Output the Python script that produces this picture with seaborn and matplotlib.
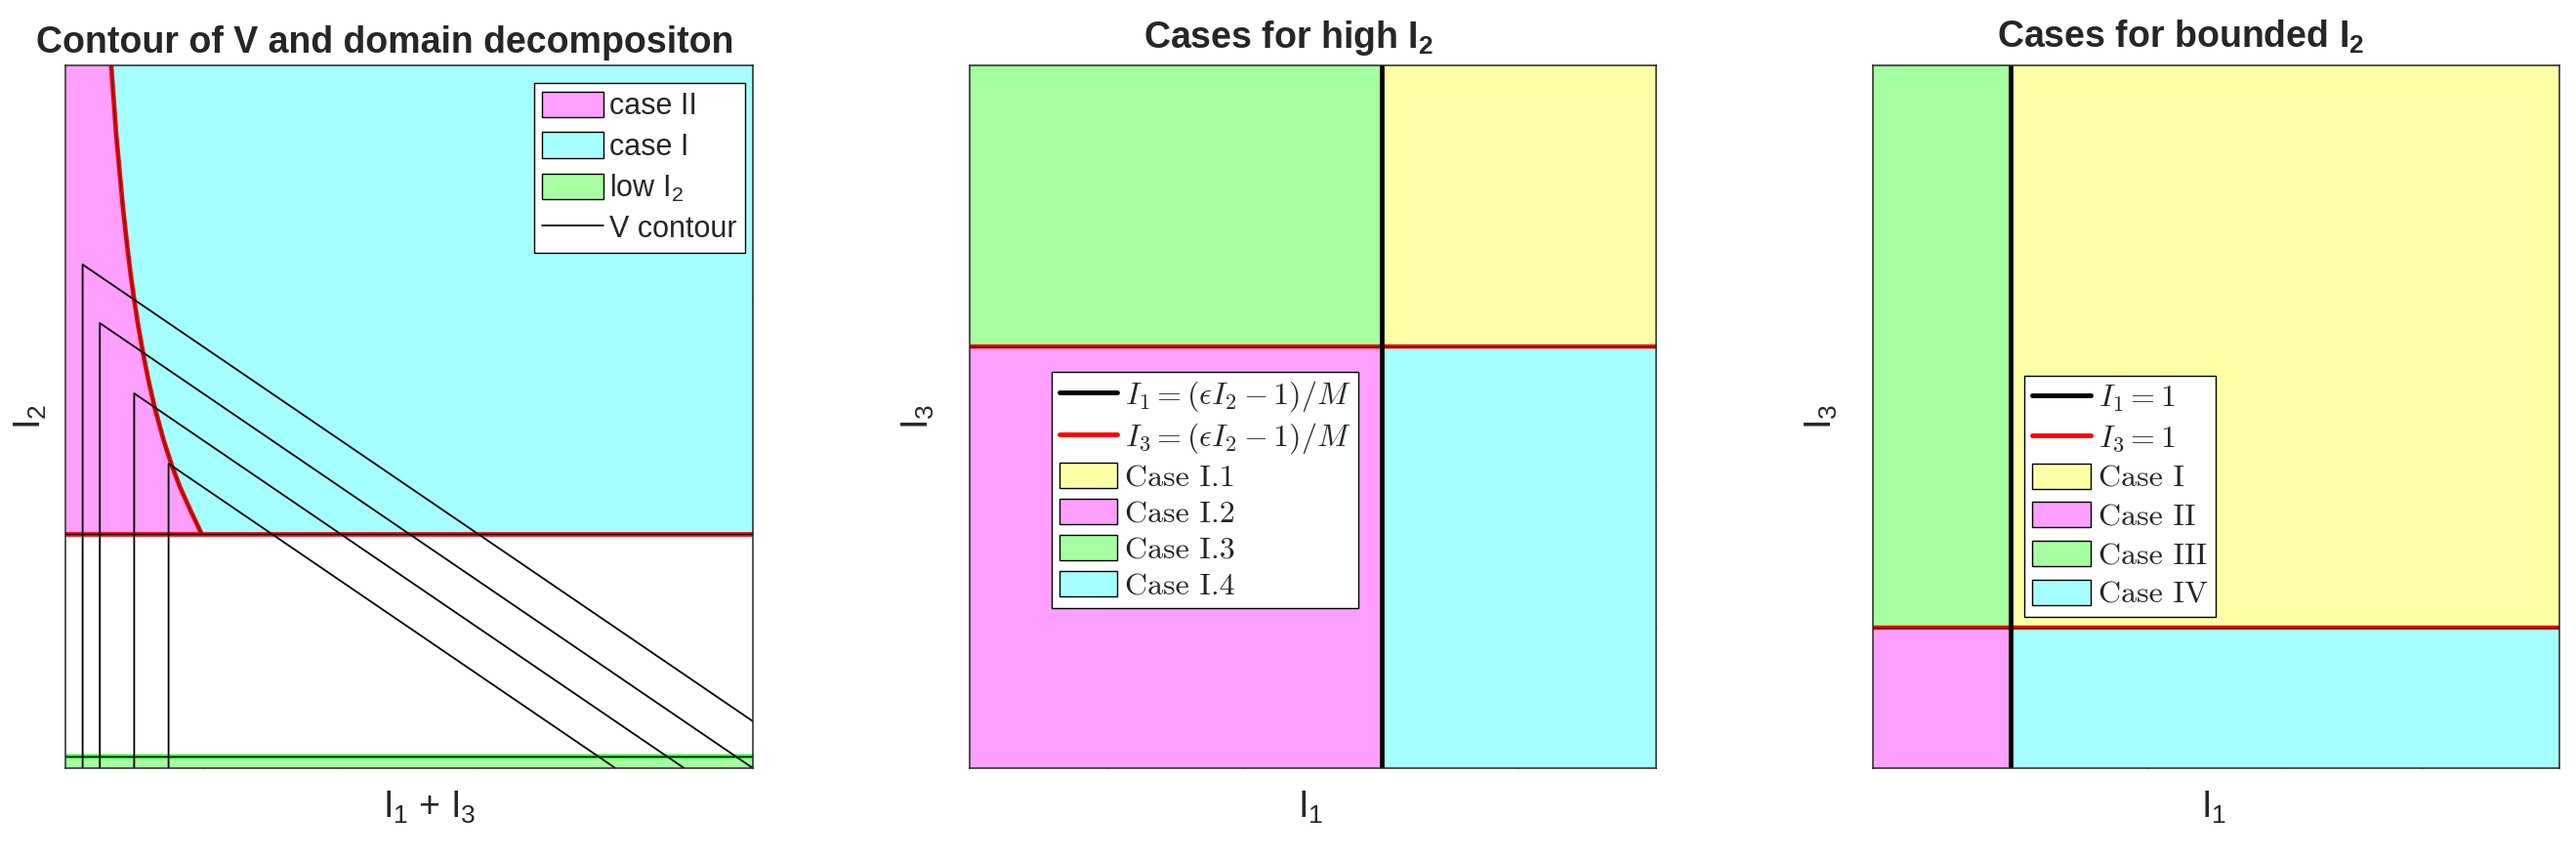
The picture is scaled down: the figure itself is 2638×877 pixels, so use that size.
import numpy as np
import pandas as pd
import matplotlib
matplotlib.use("Agg")
import matplotlib.pyplot as plt
import seaborn as sns
from matplotlib.patches import Patch
from matplotlib.lines import Line2D
from matplotlib.font_manager import FontProperties, fontManager

# ---- values ----
# panel 1: I1 + I3 on x, I2 on y
p1_xlim = (0, 5)
p1_ylim = (0, 3)
p1_xticks = [1, 2, 3, 4]
p1_yticks = [1, 2]
i2_split = 1.0        # red line: bounded / high I2
low_i2_top = 0.05     # top of the "low I2" strip

# case II | case I boundary
curve_i2 = [1.0, 1.1, 1.2, 1.29, 1.4, 1.54, 1.65, 1.77, 1.9, 2.0, 2.1, 2.24, 2.4, 2.7, 3.0]
curve_x = [0.99, 0.91, 0.833, 0.775, 0.714, 0.649, 0.606, 0.565, 0.526, 0.5, 0.476, 0.447, 0.417, 0.37, 0.333]

# V contours: vertical at x0 up to top, then straight down to (end, 0)
contour_x0 = [0.125, 0.25, 0.5, 0.75]
contour_top = [2.15, 1.9, 1.6, 1.3]
contour_end = [5.5, 5.0, 4.5, 4.0]

# panels 2 and 3: I1 on x, I3 on y
p23_lim = (0, 5)
p23_ticks = [1, 2, 3, 4]
high_i1, high_i3 = 3.0, 3.0
bnd_i1, bnd_i3 = 1.0, 1.0

pink = "#FF9FFF"
cyan = "#A6FFFF"
green = "#A6FFA0"
yellow = "#FFFFA6"

sns.set_style("ticks")
names = {f.name for f in fontManager.ttflist}
narrow = "Liberation Sans Narrow" in names
title_family = "Liberation Sans Narrow" if narrow else "Liberation Sans"
title_size = 31 if narrow else 27
plt.rcParams["font.family"] = ["Liberation Sans", "DejaVu Sans"]
plt.rcParams["mathtext.fontset"] = "custom"
plt.rcParams["mathtext.rm"] = "Liberation Sans"
plt.rcParams["mathtext.it"] = "Liberation Sans:italic"
plt.rcParams["mathtext.bf"] = title_family + ":bold"

fig = plt.figure(figsize=(26.38, 8.77), dpi=100)
ax1 = fig.add_axes([0.0254, 0.1026, 0.2669, 0.821])
ax2 = fig.add_axes([0.3764, 0.1026, 0.2665, 0.821])
ax3 = fig.add_axes([0.7271, 0.1026, 0.2665, 0.821])

spine_c = "#262626"


def style_axes(ax, xlim, ylim, xticks, yticks):
    ax.set_xlim(*xlim)
    ax.set_ylim(*ylim)
    ax.set_xticks(xticks)
    ax.set_yticks(yticks)
    ax.set_xticklabels([])
    ax.set_yticklabels([])
    ax.tick_params(direction="in", length=6.5, width=0.8, color=spine_c,
                   top=True, right=True)
    for s in ax.spines.values():
        s.set_linewidth(1.1)
        s.set_color(spine_c)
        s.set_zorder(10)


def add_title(ax, text, xc, yb):
    ax.text(xc, yb, text, transform=ax.transAxes, ha="center", va="baseline",
            fontsize=title_size, fontweight="bold", family=title_family)


# ---------------- panel 1 ----------------
ax1.fill_betweenx(curve_i2, p1_xlim[0], curve_x, color=pink, lw=0, zorder=1)
ax1.fill_betweenx(curve_i2, curve_x, p1_xlim[1], color=cyan, lw=0, zorder=1)
ax1.fill_between(p1_xlim, p1_ylim[0], low_i2_top, color=green, lw=0, zorder=1)

rows = []
for k, (x0, top, end) in enumerate(zip(contour_x0, contour_top, contour_end)):
    rows += [(k, x0, 0.0), (k, x0, top), (k, end, 0.0)]
contours = pd.DataFrame(rows, columns=["contour", "x", "y"])
sns.lineplot(data=contours, x="x", y="y", units="contour", estimator=None,
             sort=False, color="black", lw=1.3, legend=False, ax=ax1, zorder=5)

ax1.plot(curve_x, curve_i2, color="red", lw=3.4, zorder=3, solid_capstyle="butt")
ax1.plot(curve_x, curve_i2, color="#5a2020", lw=0.9, zorder=4)
ax1.axhline(i2_split, color="red", lw=3.4, zorder=3)
ax1.axhline(i2_split, color="black", lw=0.8, zorder=4)
ax1.axhline(low_i2_top, color="#22ff22", lw=3.2, zorder=3)
ax1.axhline(low_i2_top, color="black", lw=0.9, zorder=4)

style_axes(ax1, p1_xlim, p1_ylim, p1_xticks, p1_yticks)
ax1.set_xlabel(r"I$_1$ + I$_3$", fontsize=27)
ax1.set_ylabel(r"I$_2$", fontsize=27)
ax1.xaxis.set_label_coords(0.53, -0.03)
ax1.yaxis.set_label_coords(-0.024, 0.5)
add_title(ax1, "Contour of V and domain decompositon", 0.465, 1.018)

h1 = [Patch(facecolor=pink, edgecolor="black", lw=1, label="case II"),
      Patch(facecolor=cyan, edgecolor="black", lw=1, label="case I"),
      Patch(facecolor=green, edgecolor="black", lw=1, label=r"low I$_2$"),
      Line2D([], [], color="black", lw=1.2, label="V contour")]
leg = ax1.legend(handles=h1, loc="upper right", bbox_to_anchor=(0.989, 0.975),
                 fontsize=22, frameon=True, fancybox=False, framealpha=1,
                 edgecolor="black", handlelength=2.05, handleheight=0.96,
                 handletextpad=0.2, borderpad=0.28, labelspacing=0.35,
                 borderaxespad=0)
leg.get_frame().set_linewidth(1.0)
leg.set_zorder(20)

# ---------------- panels 2 and 3 ----------------
lfont = FontProperties(family="cmr10", size=23, math_fontfamily="cm")


def case_panel(ax, i1, i3, labels, title, tx, legend_anchor, spacing):
    lo, hi = p23_lim
    ax.fill_between([lo, i1], i3, hi, color=green, lw=0, zorder=1)
    ax.fill_between([i1, hi], i3, hi, color=yellow, lw=0, zorder=1)
    ax.fill_between([lo, i1], lo, i3, color=pink, lw=0, zorder=1)
    ax.fill_between([i1, hi], lo, i3, color=cyan, lw=0, zorder=1)
    ax.axhline(i3, color="red", lw=3.2, zorder=3)
    ax.axhline(i3, color="#401010", lw=0.7, zorder=3)
    ax.axvline(i1, color="black", lw=3.4, zorder=4)
    style_axes(ax, p23_lim, p23_lim, p23_ticks, p23_ticks)
    ax.set_xlabel(r"I$_1$", fontsize=27)
    ax.set_ylabel(r"I$_3$", fontsize=27)
    ax.xaxis.set_label_coords(0.497, -0.03)
    ax.yaxis.set_label_coords(-0.048, 0.5)
    add_title(ax, title, tx, 1.025)
    handles = [Line2D([], [], color="black", lw=3.5, label=labels[0]),
               Line2D([], [], color="red", lw=3.5, label=labels[1])]
    for c, lab in zip([yellow, pink, green, cyan], labels[2:]):
        handles.append(Patch(facecolor=c, edgecolor="black", lw=1, label=lab))
    lg = ax.legend(handles=handles, loc="upper left", bbox_to_anchor=legend_anchor,
                   prop=lfont, frameon=True, fancybox=False, framealpha=1,
                   edgecolor="black", handlelength=1.85, handleheight=0.88,
                   handletextpad=0.25, borderpad=0.25, labelspacing=spacing,
                   borderaxespad=0)
    lg.get_frame().set_linewidth(1.0)
    lg.set_zorder(20)


case_panel(ax2, high_i1, high_i3,
           [r"$I_1 = (\epsilon I_2 - 1)/M$", r"$I_3 = (\epsilon I_2 - 1)/M$",
            "Case I.1", "Case I.2", "Case I.3", "Case I.4"],
           r"Cases for high I$_\mathbf{2}$", 0.465, (0.119, 0.564), 0.22)
case_panel(ax3, bnd_i1, bnd_i3,
           [r"$I_1 = 1$", r"$I_3 = 1$",
            "Case I", "Case II", "Case III", "Case IV"],
           r"Cases for bounded I$_\mathbf{2}$", 0.448, (0.221, 0.559), 0.3)

fig.savefig("out.png", dpi=100)
